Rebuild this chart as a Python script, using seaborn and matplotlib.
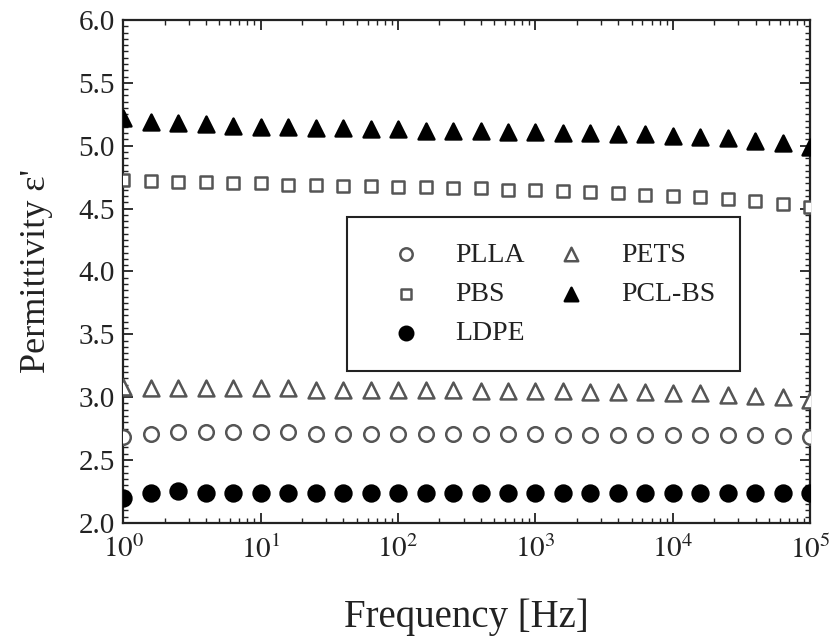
import numpy as np
import pandas as pd
import matplotlib
matplotlib.use("Agg")
import matplotlib.pyplot as plt
import seaborn as sns
from matplotlib.ticker import LogLocator, MultipleLocator, NullFormatter

# ---- data ----
exponents = [i * 0.2 for i in range(26)]  # 5 points per decade, 10^0 .. 10^5
frequency = [10 ** e for e in exponents]

pcl_bs = [5.22, 5.19, 5.18, 5.17, 5.16, 5.15, 5.15, 5.14, 5.14, 5.13, 5.13, 5.12, 5.12,
          5.12, 5.11, 5.11, 5.10, 5.10, 5.09, 5.09, 5.08, 5.07, 5.06, 5.04, 5.02, 4.99]
pbs = [4.73, 4.72, 4.71, 4.71, 4.70, 4.70, 4.69, 4.69, 4.68, 4.68, 4.67, 4.67, 4.66,
       4.66, 4.65, 4.65, 4.64, 4.63, 4.62, 4.61, 4.60, 4.59, 4.58, 4.56, 4.54, 4.51]
pets = [3.08, 3.07, 3.07, 3.07, 3.07, 3.07, 3.07, 3.06, 3.06, 3.06, 3.06, 3.06, 3.06,
        3.05, 3.05, 3.05, 3.05, 3.04, 3.04, 3.04, 3.03, 3.03, 3.02, 3.01, 3.00, 2.98]
plla = [2.68, 2.71, 2.72, 2.72, 2.72, 2.72, 2.72, 2.71, 2.71, 2.71, 2.71, 2.71, 2.71,
        2.71, 2.71, 2.71, 2.70, 2.70, 2.70, 2.70, 2.70, 2.70, 2.70, 2.70, 2.69, 2.68]
ldpe = [2.20, 2.24, 2.25, 2.24, 2.24, 2.24, 2.24, 2.24, 2.24, 2.24, 2.24, 2.24, 2.24,
        2.24, 2.24, 2.24, 2.24, 2.24, 2.24, 2.24, 2.24, 2.24, 2.24, 2.24, 2.24, 2.24]

series_names = ["PLLA", "PBS", "LDPE", "PETS", "PCL-BS"]
series_values = [plla, pbs, ldpe, pets, pcl_bs]
x_ticks = [1, 10, 100, 1000, 10000, 100000]
x_ticklabels = [r"$10^{0}$", r"$10^{1}$", r"$10^{2}$", r"$10^{3}$", r"$10^{4}$", r"$10^{5}$"]
y_ticks = [2.0, 2.5, 3.0, 3.5, 4.0, 4.5, 5.0, 5.5, 6.0]

# ---- styles ----
styles = {
    "PLLA":   dict(marker="o", facecolor="white", edgecolor="#555555", s=110),
    "PBS":    dict(marker="s", facecolor="white", edgecolor="#555555", s=80),
    "LDPE":   dict(marker="o", facecolor="black", edgecolor="black", s=130),
    "PETS":   dict(marker="^", facecolor="white", edgecolor="#555555", s=130),
    "PCL-BS": dict(marker="^", facecolor="black", edgecolor="black", s=130),
}

sns.set_theme(style="ticks")
plt.rcParams["font.family"] = ["Liberation Serif", "DejaVu Serif"]
plt.rcParams["mathtext.fontset"] = "stix"

fig = plt.figure(figsize=(8.38, 6.44), dpi=100)
ax = fig.add_axes([0.147, 0.188, 0.820, 0.781])

rows = []
for name, vals in zip(series_names, series_values):
    for f, v in zip(frequency, vals):
        rows.append({"Frequency": f, "Permittivity": v, "Sample": name})
df = pd.DataFrame(rows)

for name in series_names:
    st = styles[name]
    sns.scatterplot(data=df[df["Sample"] == name], x="Frequency", y="Permittivity",
                    marker=st["marker"], s=st["s"], color=st["facecolor"],
                    edgecolor=st["edgecolor"], linewidth=1.8, ax=ax, label=name,
                    clip_on=True, zorder=3)

ax.set_xscale("log")
ax.set_xlim(1, 1e5)
ax.set_ylim(2.0, 6.0)
ax.set_xticks(x_ticks)
ax.set_xticklabels(x_ticklabels)
ax.xaxis.set_minor_locator(LogLocator(base=10, subs=np.arange(2, 10)))
ax.xaxis.set_minor_formatter(NullFormatter())
ax.set_yticks(y_ticks)
ax.set_yticklabels([f"{v:.1f}" for v in y_ticks])
ax.yaxis.set_minor_locator(MultipleLocator(0.05))

ax.tick_params(which="both", direction="in", top=True, right=True, labelsize=21,
               colors="#222222")
ax.tick_params(which="major", length=7, width=1.3)
ax.tick_params(which="minor", length=3.5, width=1.0)
ax.tick_params(axis="x", which="major", pad=9)
ax.tick_params(axis="y", which="major", pad=6)
for sp in ax.spines.values():
    sp.set_linewidth(1.6)
    sp.set_color("#222222")

ax.set_xlabel("Frequency [Hz]", fontsize=28, labelpad=25, color="#222222")
ax.set_ylabel("Permittivity ε'", fontsize=26, labelpad=18, color="#222222")

leg = ax.legend(loc="upper left", bbox_to_anchor=(0.326, 0.304, 0.572, 0.304),
                mode="expand", ncol=2, fontsize=20, frameon=True, fancybox=False,
                handletextpad=0.6, columnspacing=0.6, labelspacing=0.5,
                handlelength=2.4, borderpad=0.9, borderaxespad=0.0, markerscale=0.85)
frame = leg.get_frame()
frame.set_edgecolor("#222222")
frame.set_linewidth(1.5)
frame.set_alpha(1.0)
for t in leg.get_texts():
    t.set_color("#222222")

fig.savefig("out.png", dpi=100)
